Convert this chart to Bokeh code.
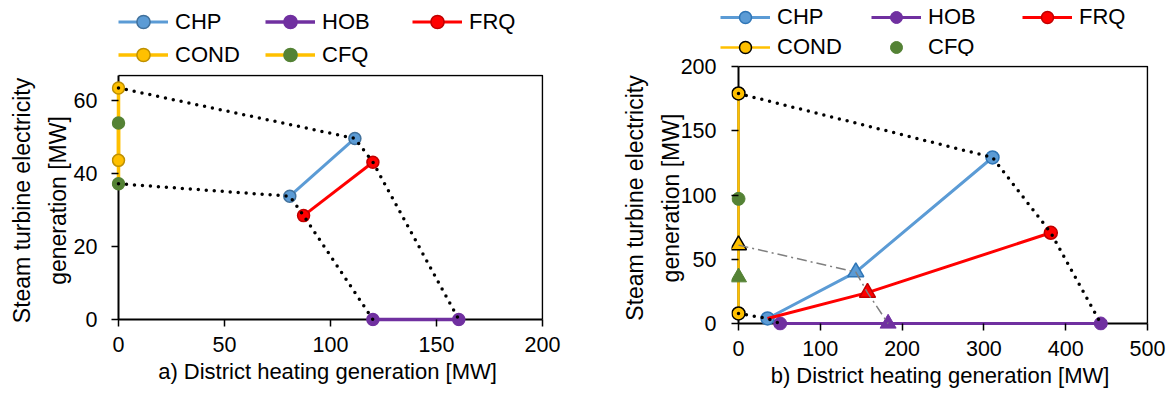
from bokeh.plotting import figure
from bokeh.layouts import row, column
from bokeh.models import Legend, LegendItem, ColumnDataSource, Range1d, FixedTicker
from bokeh.embed import file_html
from bokeh.resources import INLINE

FONT = "Liberation Sans"

# ---------------- Data: a) ----------------
chp_a_x = [80.8, 111.5]
chp_a_y = [33.7, 49.5]
hob_a_x = [120.0, 160.5]
hob_a_y = [0.0, 0.0]
frq_a_x = [87.3, 120.0]
frq_a_y = [28.4, 43.0]
cond_a_x = [0.0, 0.0]
cond_a_y = [63.3, 43.5]
cfq_a_x = [0.0, 0.0]
cfq_a_y = [53.7, 37.1]
env_a_upper_x = [0.0, 111.5, 120.0, 160.5]
env_a_upper_y = [63.3, 49.5, 43.0, 0.0]
env_a_lower_x = [0.0, 80.8, 87.3, 120.0]
env_a_lower_y = [37.1, 33.7, 28.4, 0.0]
xticks_a = [0, 50, 100, 150, 200]
yticks_a = [0, 20, 40, 60]
xmax_a, ymax_a = 200, 66.7

# ---------------- Data: b) ----------------
chp_b_x = [35.5, 143.4, 310.5]
chp_b_y = [3.9, 40.0, 129.2]
chp_b_m = ["circle", "triangle", "circle"]
hob_b_x = [50.9, 182.9, 442.9]
hob_b_y = [0.0, 0.0, 0.0]
hob_b_m = ["circle", "triangle", "circle"]
frq_b_x = [35.5, 157.7, 381.8]
frq_b_y = [3.9, 24.0, 70.6]
frq_b_m = ["triangle", "circle"]  # markers for points 2..3
cond_b_x = [0.0, 0.0, 0.0]
cond_b_y = [179.0, 61.0, 7.8]
cond_b_m = ["circle", "triangle", "circle"]
cfq_b_x = [0.0, 0.0]
cfq_b_y = [97.0, 36.0]
cfq_b_m = ["circle", "triangle"]
env_b_upper_x = [0.0, 310.5, 381.8, 442.9]
env_b_upper_y = [179.0, 129.2, 70.6, 0.0]
env_b_lower_x = [0.0, 35.5, 50.9]
env_b_lower_y = [7.8, 3.9, 0.0]
sub_b_x = [0.0, 143.4, 157.7, 182.9]
sub_b_y = [61.0, 40.0, 24.0, 0.0]
xticks_b = [0, 100, 200, 300, 400, 500]
yticks_b = [0, 50, 100, 150, 200]
xmax_b, ymax_b = 500, 200

BLUE, BLUE_D, BLUE_A = "#5B9BD5", "#2E75B6", "#41719C"
PURPLE = "#7030A0"
RED, RED_D = "#FF0000", "#C00000"
YEL, YEL_D = "#FFC000", "#BF9000"
GREEN = "#548235"

PADT = 1   # px above the plot box inside the frame
PADR = 1   # px right of the plot box
PAD = 7    # px left of / below the axes inside the frame (room for markers at 0)
TICK = 7   # tick length outside the plot box


def base(xmax, ymax, dw, dh, data_left, data_top, strip_h, fig_left, fig_w,
         xticks, yticks, xlabel, ylab_right, ystand):
    # dw, dh: pixel size of the data area (0..xmax, 0..ymax); data_left/top in page px
    ppx = dw / xmax
    ppy = dh / ymax
    fw = PAD + dw + PADR
    fh = PADT + dh + PAD
    left = data_left - PAD - fig_left
    top = data_top - PADT - strip_h
    p = figure(x_range=Range1d(-PAD / ppx, xmax + PADR / ppx),
               y_range=Range1d(-PAD / ppy, ymax + PADT / ppy),
               frame_width=fw, frame_height=fh,
               min_border_left=left, min_border_right=fig_w - left - fw,
               min_border_top=top, min_border_bottom=394 - strip_h - top - fh,
               output_backend="svg", toolbar_location=None)
    p.grid.visible = False
    p.outline_line_color = None
    p.background_fill_color = "white"
    p.border_fill_color = "white"
    for ax in (p.xaxis[0], p.yaxis[0]):
        ax.axis_line_color = None
        ax.major_tick_line_color = "black"
        ax.major_tick_line_width = 1.5
        # axes sit at the frame edge, PAD px from data 0: ticks pulled in to start at 0
        ax.major_tick_in = PAD
        ax.major_tick_out = TICK - PAD
        ax.minor_tick_line_color = None
        ax.minor_tick_in = 0
        ax.minor_tick_out = 0
        ax.major_label_text_font = FONT
        ax.major_label_text_font_size = "21.5px"
        ax.major_label_text_color = "black"
        ax.axis_label_text_font = FONT
        ax.axis_label_text_font_size = "22px"
        ax.axis_label_text_font_style = "normal"
        ax.axis_label_text_color = "black"
    xa, ya = p.xaxis[0], p.yaxis[0]
    xa.ticker = FixedTicker(ticks=xticks)
    ya.ticker = FixedTicker(ticks=yticks)
    xa.axis_label = xlabel
    xa.major_label_standoff = 17 - PAD
    xa.axis_label_standoff = 4
    ya.axis_label = "Steam turbine electricity\ngeneration [MW]"
    ya.axis_label_text_font_size = "23px"
    ya.axis_label_text_line_height = 1.36
    ya.major_label_standoff = ylab_right - PAD
    ya.axis_label_standoff = ystand
    # plot-area box: axes (left, bottom) and top/right edges
    p.line([0, 0, xmax], [ymax, 0, 0], line_color="black", line_width=2)
    p.line([0, xmax, xmax], [ymax, ymax, 0], line_color="black", line_width=1.5)
    return p


def strip(w, h):
    # legend strip: its ranges lie outside all data, so only the legend shows
    f = figure(x_range=Range1d(-2, -1), y_range=Range1d(-2, -1), frame_width=w, frame_height=h,
               min_border=0, x_axis_type=None, y_axis_type=None,
               output_backend="svg", toolbar_location=None)
    f.outline_line_color = None
    f.grid.visible = False
    f.background_fill_color = "white"
    f.border_fill_color = "white"
    return f


def dotted(p, xs, ys):
    p.line(xs, ys, line_color="black", line_width=3.5, line_dash="0 8", line_cap="round")


def sized(markers, circle, tri):
    return [tri if m == "triangle" else circle for m in markers]


def style_legend(lg, gh, lw):
    lg.padding = 0
    lg.margin = 0
    lg.spacing = 0
    lg.glyph_width = 50
    lg.glyph_height = gh
    lg.label_standoff = 7
    lg.label_width = lw
    lg.label_height = gh
    lg.label_text_font = FONT
    lg.label_text_font_size = "22px"
    lg.label_text_color = "black"
    lg.border_line_color = None
    lg.background_fill_alpha = 0
    lg.inactive_fill_alpha = 0


# ================= Figure a =================
STRIP_A = 73
pa = base(xmax_a, ymax_a, 424, 244, 118, 75, STRIP_A, 0, 585, xticks_a, yticks_a,
          "a) District heating generation [MW]", 21, 0)
la = strip(585, STRIP_A)


def draw_a(f):
    r = {}
    r["chp_l"] = f.line(chp_a_x, chp_a_y, line_color=BLUE, line_width=3)
    r["hob_l"] = f.line(hob_a_x, hob_a_y, line_color=PURPLE, line_width=3.5)
    r["frq_l"] = f.line(frq_a_x, frq_a_y, line_color=RED, line_width=3)
    r["cond_l"] = f.line(cond_a_x, cond_a_y, line_color=YEL, line_width=3.5)
    r["cfq_l"] = f.line(cfq_a_x, cfq_a_y, line_color=YEL, line_width=3.5)
    r["chp_m"] = f.scatter(chp_a_x, chp_a_y, size=12, fill_color=BLUE, line_color=BLUE_A, line_width=1.5)
    r["hob_m"] = f.scatter(hob_a_x, hob_a_y, size=12, fill_color=PURPLE, line_color=PURPLE, line_width=1.5)
    r["frq_m"] = f.scatter(frq_a_x, frq_a_y, size=12, fill_color=RED, line_color=RED_D, line_width=1.5)
    r["cond_m"] = f.scatter(cond_a_x, cond_a_y, size=12, fill_color=YEL, line_color=YEL_D, line_width=1.5)
    r["cfq_m"] = f.scatter(cfq_a_x, cfq_a_y, size=12, fill_color=GREEN, line_color=GREEN, line_width=1.5)
    return r


draw_a(pa)
dotted(pa, env_a_upper_x, env_a_upper_y)
dotted(pa, env_a_lower_x, env_a_lower_y)

ra = draw_a(la)  # same series in the legend strip (out of its view) for legend samples
leg_a = Legend(items=[  # listed column by column (legend fills columns first)
    LegendItem(label="CHP", renderers=[ra["chp_l"], ra["chp_m"]]),
    LegendItem(label="COND", renderers=[ra["cond_l"], ra["cond_m"]]),
    LegendItem(label="HOB", renderers=[ra["hob_l"], ra["hob_m"]]),
    LegendItem(label="CFQ", renderers=[ra["cfq_l"], ra["cfq_m"]]),
    LegendItem(label="FRQ", renderers=[ra["frq_l"], ra["frq_m"]]),
], ncols=3, location=(118, 2))
style_legend(leg_a, 33, 90)
la.add_layout(leg_a, "center")

# ================= Figure b =================
STRIP_B = 56
pb = base(xmax_b, ymax_b, 409, 257, 738, 66, STRIP_B, 585, 586, xticks_b, yticks_b,
          "b) District heating generation [MW]", 22, -6)
lb = strip(586, STRIP_B)

src_chp = ColumnDataSource(dict(x=chp_b_x, y=chp_b_y, m=chp_b_m, s=sized(chp_b_m, 13, 16)))
src_hob = ColumnDataSource(dict(x=hob_b_x, y=hob_b_y, m=hob_b_m, s=sized(hob_b_m, 13, 16)))
src_frq = ColumnDataSource(dict(x=frq_b_x[1:], y=frq_b_y[1:], m=frq_b_m, s=sized(frq_b_m, 13, 16)))
src_cond = ColumnDataSource(dict(x=cond_b_x, y=cond_b_y, m=cond_b_m, s=sized(cond_b_m, 13, 16)))
src_cfq = ColumnDataSource(dict(x=cfq_b_x, y=cfq_b_y, m=cfq_b_m, s=sized(cfq_b_m, 13, 16)))


def draw_b(f):
    r = {}
    r["cond_l"] = f.line(cond_b_x, cond_b_y, line_color=YEL, line_width=2.5)
    r["chp_l"] = f.line(chp_b_x, chp_b_y, line_color=BLUE, line_width=3)
    r["hob_l"] = f.line(hob_b_x, hob_b_y, line_color=PURPLE, line_width=3)
    r["hob_m"] = f.scatter("x", "y", marker="m", size="s", source=src_hob, fill_color=PURPLE, line_color=PURPLE, line_width=1)
    r["chp_m"] = f.scatter("x", "y", marker="m", size="s", source=src_chp, fill_color=BLUE, line_color=BLUE_D, line_width=1.5)
    r["frq_l"] = f.line(frq_b_x, frq_b_y, line_color=RED, line_width=3)
    r["frq_m"] = f.scatter("x", "y", marker="m", size="s", source=src_frq, fill_color=RED, line_color=RED_D, line_width=1.5)
    r["cond_m"] = f.scatter("x", "y", marker="m", size="s", source=src_cond, fill_color=YEL, line_color="black", line_width=1.5)
    r["cfq_m"] = f.scatter("x", "y", marker="m", size="s", source=src_cfq, fill_color=GREEN, line_color=GREEN, line_width=1)
    return r


draw_b(pb)
dotted(pb, env_b_upper_x, env_b_upper_y)
dotted(pb, env_b_lower_x, env_b_lower_y)
pb.line(sub_b_x, sub_b_y, line_color="#7F7F7F", line_width=1.5, line_dash="10 4 2 4")

rb = draw_b(lb)
leg_b = Legend(items=[
    LegendItem(label="CHP", renderers=[rb["chp_l"], rb["chp_m"]], index=0),
    LegendItem(label="COND", renderers=[rb["cond_l"], rb["cond_m"]], index=0),
    LegendItem(label="HOB", renderers=[rb["hob_l"], rb["hob_m"]], index=0),
    LegendItem(label="CFQ", renderers=[rb["cfq_m"]], index=0),
    LegendItem(label="FRQ", renderers=[rb["frq_l"], rb["frq_m"]], index=1),
], ncols=3, location=(135, STRIP_B - 62))
style_legend(leg_b, 30, 94)
lb.add_layout(leg_b, "center")

layout = row(column(la, pa, spacing=0), column(lb, pb, spacing=0), spacing=0)
open("out.html", "w").write(file_html(layout, INLINE))
